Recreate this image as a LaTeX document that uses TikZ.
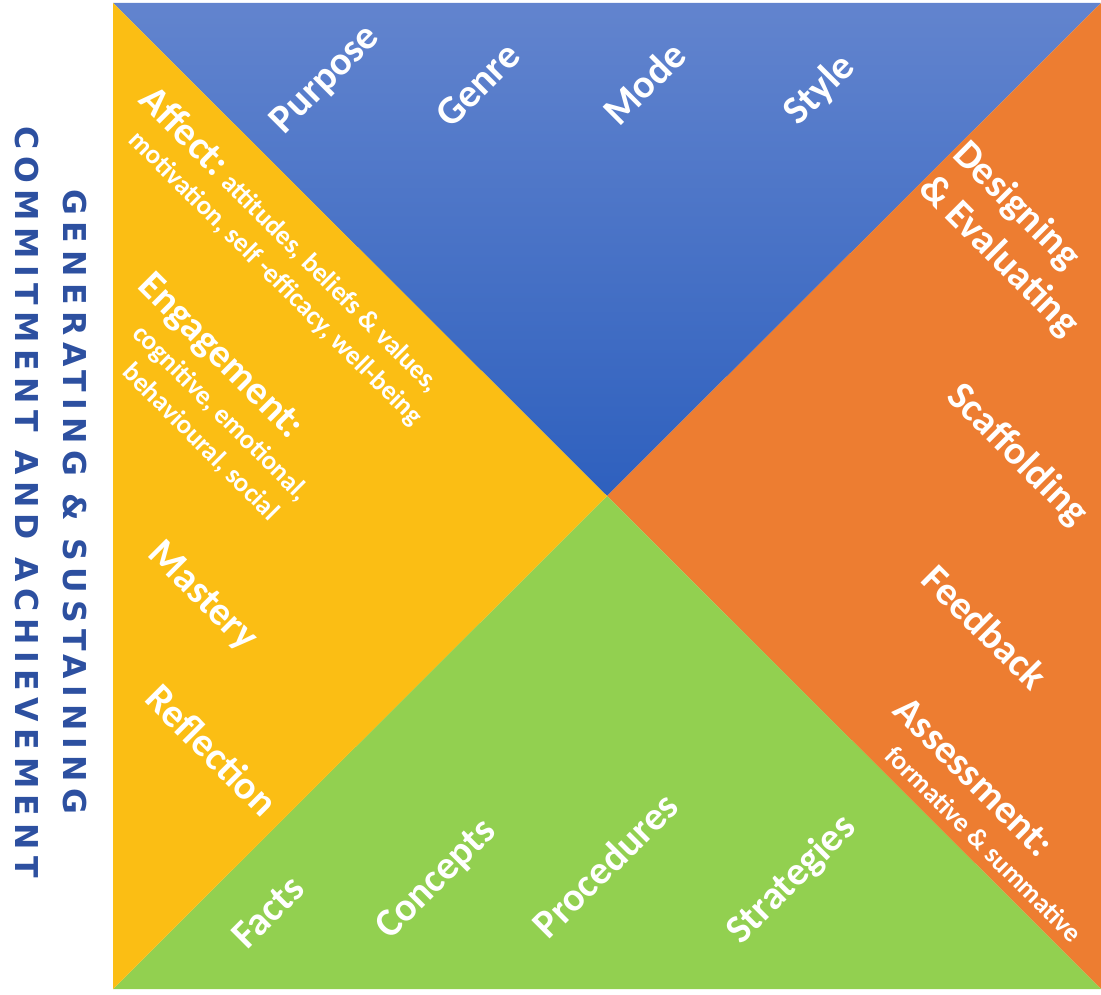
\documentclass[tikz,border=0pt]{standalone}
\usepackage{fontspec}
\setmainfont{Carlito}
\newfontfamily\titlefont{DejaVu Sans}[LetterSpace=21]
\usepackage{tikz}
\definecolor{topblue}{RGB}{98,132,206}
\definecolor{botblue}{RGB}{46,96,190}
\definecolor{gold}{RGB}{251,190,20}
\definecolor{leaf}{RGB}{146,208,80}
\definecolor{rust}{RGB}{237,125,49}
\definecolor{navy}{RGB}{45,80,160}
\newcommand{\bigsz}{\fontsize{40}{48}\selectfont}
\newcommand{\smallsz}{\fontsize{27}{35}\selectfont}
\newcommand{\ind}[1]{\hspace*{#1pt}}
\tikzset{
  lbl/.style={text=white, font=\bfseries\bigsz, inner sep=0pt},
  lblup/.style={lbl, rotate=45},
  lbldown/.style={lbl, rotate=-45},
  sublbl/.style={lbldown, align=left, anchor=north west, font=\bfseries\smallsz},
  sidetitle/.style={text=navy, rotate=-90, align=center, inner sep=0pt,
    font=\titlefont\bfseries\fontsize{31.5}{48}\selectfont}
}

\begin{document}
\begin{tikzpicture}[x=1pt, y=-1pt]
  \useasboundingbox (0,0) rectangle (1101,995);
  \coordinate (TL) at (113,3);
  \coordinate (TR) at (1101,3);
  \coordinate (BR) at (1101,989);
  \coordinate (BL) at (113,989);
  \coordinate (O) at (607,496);
  \shade[top color=topblue, bottom color=botblue] (TL)--(TR)--(O)--cycle;
  \fill[rust] (TR)--(BR)--(O)--cycle;
  \fill[leaf] (BR)--(BL)--(O)--cycle;
  \fill[gold] (BL)--(TL)--(O)--cycle;
  % top
  \node[lblup] (purpose) at (326,80) {Purpose};
  \node[lblup] (genre) at (478,85) {Genre};
  \node[lblup] (mode) at (644,83) {Mode};
  \node[lblup] (style) at (820,90) {Style};
  % left
  \node[sublbl] (affect) at (157,81)
    {{\bigsz Affect:} attitudes, beliefs \& values,\\\ind{22}motivation, self -efficacy, well-being};
  \node[sublbl] (engage) at (155,269)
    {{\bigsz Engagement:}\\[2pt]\ind{30}cognitive, emotional,\\\ind{50}behavioural, social};
  \node[lbldown] (mastery) at (202,597) {Mastery};
  \node[lbldown] (reflect) at (212,750) {Reflection};
  % bottom
  \node[lblup] (facts) at (268,912) {Facts};
  \node[lblup] (concepts) at (437,880) {Concepts};
  \node[lblup] (procs) at (605,865) {Procedures};
  \node[lblup] (strats) at (792,880) {Strategies};
  % right
  \node[lbldown, align=left, anchor=north west] (design) at (971,136) {Designing\\\& Evaluating};
  \node[lbldown] (scaff) at (1017,455) {Scaffolding};
  \node[lbldown] (feedback) at (985,627) {Feedback};
  \node[sublbl] (assess) at (910,694) {{\bigsz Assessment:}\\[2pt]\ind{26}formative \& summative};
  % side title
  \node[sidetitle] (title) at (51,502)
    {GENERATING \& SUSTAINING\\COMMITMENT AND ACHIEVEMENT};
\end{tikzpicture}
\end{document}
